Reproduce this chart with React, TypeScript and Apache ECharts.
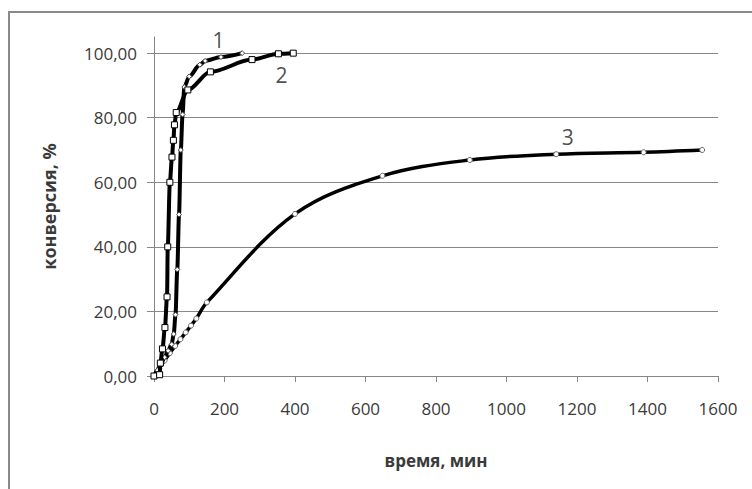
import React, { useEffect, useRef } from "react";
import * as echarts from "echarts";

// Curve 1 (small diamond markers)
const curve1Time = [0, 10, 20, 30, 40, 50, 56, 61, 66, 71, 76, 81, 86, 100, 130, 145, 190, 250];
const curve1Conv = [0, 1.8, 3.8, 5.8, 7.8, 9.8, 13, 19, 33, 50, 70, 81, 89.5, 92.8, 96.4, 97.6, 98.8, 100];

// Curve 2 (open square markers)
const curve2Time = [0, 16, 18, 24, 31, 37, 39, 45, 51, 55, 58, 63, 96, 160, 278, 353, 395];
const curve2Conv = [0, 0.4, 4, 8.4, 15, 24.5, 40, 60, 67.8, 73, 77.8, 81.6, 88.6, 94.2, 98, 99.8, 100];

// Curve 3 (small circle markers)
const curve3Time = [0, 15, 30, 45, 60, 75, 90, 105, 120, 150, 400, 648, 896, 1141, 1389, 1555];
const curve3Conv = [0, 2.4, 4.8, 7.1, 9.3, 11.4, 13.5, 15.6, 17.8, 22.8, 50.2, 62.0, 66.9, 68.7, 69.3, 70.0];

// Curve number labels
const curveNames = ["1", "2", "3"];
const curveNameTime = [183, 362, 1174];
const curveNameConv = [104.1, 93.2, 74];

// Axis ticks
const yTickValues = [0, 20, 40, 60, 80, 100];
const xTickValues = [0, 200, 400, 600, 800, 1000, 1200, 1400, 1600];

const xAxisTitle = "время, мин";
const yAxisTitle = "конверсия, %";

const zip = (xs: number[], ys: number[]) => xs.map((x, i) => [x, ys[i]]);

export default function App() {
  const ref = useRef<HTMLDivElement>(null);
  useEffect(() => {
    const chart = echarts.init(ref.current!, null, { renderer: "svg" });
    const font = "'Open Sans', Lato, sans-serif";
    const axisGray = "#878787";
    const textColor = "#3a3a3a";
    chart.setOption({
      animation: false,
      backgroundColor: "#ffffff",
      grid: { left: 154, right: 34, top: 37, bottom: 113, containLabel: false, outerBoundsMode: "none" },
      graphic: [
        {
          type: "rect",
          shape: { x: 9, y: 12, width: 1000, height: 1000 },
          style: { fill: "none", stroke: "#8a8a8a", lineWidth: 2 },
          silent: true,
          z: -1,
        },
      ],
      xAxis: {
        type: "value",
        min: 0,
        max: 1600,
        interval: 200,
        name: xAxisTitle,
        nameLocation: "middle",
        nameGap: 76,
        nameTextStyle: { fontFamily: font, fontSize: 17, fontWeight: "bold", color: textColor },
        axisLine: { show: true, onZero: false, lineStyle: { color: axisGray, width: 1 } },
        axisTick: { show: true, length: 6, lineStyle: { color: axisGray }, customValues: xTickValues },
        axisLabel: {
          fontFamily: font,
          fontSize: 17,
          color: textColor,
          margin: 24,
          customValues: xTickValues,
          formatter: (v: number) => String(v),
        },
        splitLine: { show: false },
      },
      yAxis: {
        type: "value",
        min: 0,
        max: 105,
        interval: 20,
        name: yAxisTitle,
        nameLocation: "middle",
        nameGap: 96,
        nameRotate: 90,
        nameTextStyle: { fontFamily: font, fontSize: 18, fontWeight: "bold", color: textColor },
        axisLine: { show: true, onZero: false, lineStyle: { color: axisGray, width: 1 } },
        axisTick: { show: true, length: 7, lineStyle: { color: axisGray }, customValues: yTickValues },
        axisLabel: {
          fontFamily: font,
          fontSize: 17,
          color: textColor,
          margin: 17,
          customValues: yTickValues,
          formatter: (v: number) => v.toFixed(2).replace(".", ","),
        },
        splitLine: { show: true, lineStyle: { color: axisGray, width: 1 } },
      },
      series: [
        {
          type: "line",
          name: "3",
          data: zip(curve3Time, curve3Conv),
          smooth: 0.35,
          symbol: "circle",
          symbolSize: 5,
          showAllSymbol: true,
          lineStyle: { color: "#000", width: 3.5 },
          itemStyle: { color: "#fff", borderColor: "#666", borderWidth: 1 },
          z: 2,
        },
        {
          type: "line",
          name: "1",
          data: zip(curve1Time, curve1Conv),
          smooth: 0.3,
          smoothMonotone: "x",
          symbol: "diamond",
          symbolSize: 5,
          showAllSymbol: true,
          lineStyle: { color: "#000", width: 4 },
          itemStyle: { color: "#fff", borderColor: "#444", borderWidth: 1 },
          z: 3,
        },
        {
          type: "line",
          name: "2",
          data: zip(curve2Time, curve2Conv),
          smooth: 0.3,
          smoothMonotone: "x",
          symbol: "rect",
          symbolSize: 6,
          showAllSymbol: true,
          lineStyle: { color: "#000", width: 4 },
          itemStyle: { color: "#fff", borderColor: "#000", borderWidth: 1 },
          z: 4,
        },
        {
          type: "scatter",
          name: "labels",
          data: curveNames.map((n, i) => ({ name: n, value: [curveNameTime[i], curveNameConv[i]] })),
          symbolSize: 0,
          silent: true,
          label: {
            show: true,
            position: "inside",
            formatter: (p: any) => p.name,
            fontFamily: font,
            fontSize: 21,
            color: "#222",
          },
          z: 5,
        },
      ],
    });
    return () => chart.dispose();
  }, []);
  return (
    <div
      ref={ref}
      style={{ position: "absolute", left: 0, top: 0, width: 752, height: 489, background: "#fff" }}
    />
  );
}
